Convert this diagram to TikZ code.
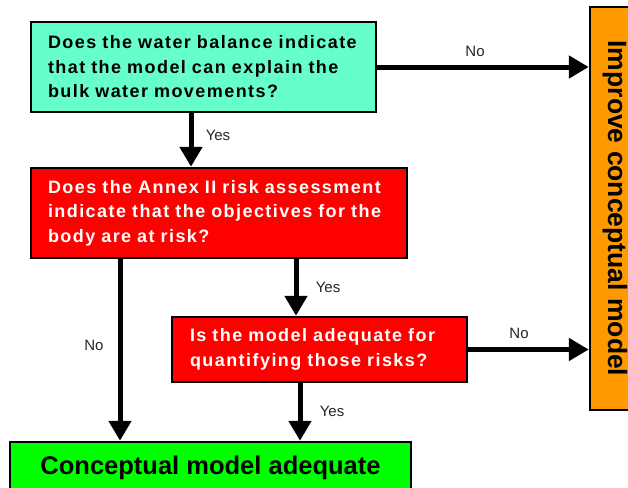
\documentclass[tikz,border=0pt]{standalone}
\usepackage{fontspec}
\setmainfont{Liberation Sans}
\usetikzlibrary{arrows.meta}
\definecolor{qteal}{HTML}{66FFCC}
\definecolor{qred}{HTML}{FF0000}
\definecolor{qgreen}{HTML}{00FF00}
\definecolor{qorange}{HTML}{FF9900}
\tikzset{
  box/.style={draw=black, line width=2.5pt, rectangle, inner sep=0pt, align=left},
  qtext/.style={font=\fontsize{18}{24.5}\selectfont\bfseries\addfontfeature{LetterSpace=8}},
  arr/.style={line width=5pt, -{Triangle[length=20pt,width=22pt]}},
  lbl/.style={font=\fontsize{15}{18}\selectfont, text=black!85, inner sep=0pt}
}
\begin{document}
\begin{tikzpicture}[x=1pt,y=-1pt]
\clip (0,0) rectangle (628,487);
\fill[white] (0,0) rectangle (628,487);
% boxes
\node[box, qtext, fill=qteal, minimum width=345, minimum height=90, text width=311] (q1) at (203.5,67)
  {Does the water balance indicate\\that the model can explain the\\bulk water movements?};
\node[box, qtext, fill=qred, text=white, minimum width=376, minimum height=90, text width=342] (q2) at (219,213)
  {Does the Annex II risk assessment\\indicate that the objectives for the\\body are at risk?};
\node[box, qtext, fill=qred, text=white, minimum width=295, minimum height=65, text width=259] (q3) at (319.5,349.5)
  {Is the model adequate for\\quantifying those risks?};
\node[box, fill=qgreen, minimum width=401, minimum height=52, align=center,
  font=\fontsize{25.5}{28}\selectfont\bfseries] (ok) at (210.5,468) {Conceptual model adequate};
\node[box, fill=qorange, minimum width=50, minimum height=403, align=center] (imp) at (615,208.5) {};
\node[rotate=-90, font=\fontsize{26.5}{30}\selectfont\bfseries, inner sep=0pt] (impt) at (imp.center) {Improve conceptual model};
% columns
\coordinate (c1) at (191,0);
\coordinate (c2) at (296,0);
\coordinate (c3) at (120,0);
\coordinate (c4) at (300,0);
% connectors
\draw[arr] (q1.east) -- (q1.east -| imp.west);
\draw[arr] (q1.south -| c1) -- (q2.north -| c1);
\draw[arr] (q2.south -| c2) -- (q3.north -| c2);
\draw[arr] (q2.south -| c3) -- (ok.north -| c3);
\draw[arr] (q3.east) -- (q3.east -| imp.west);
\draw[arr] (q3.south -| c4) -- (ok.north -| c4);
% labels
\node[lbl] (l1) at (475,51) {No};
\node[lbl] (l2) at (218,135) {Yes};
\node[lbl] (l3) at (328,287) {Yes};
\node[lbl] (l4) at (94,345) {No};
\node[lbl] (l5) at (519,333) {No};
\node[lbl] (l6) at (332,411) {Yes};
\end{tikzpicture}
\end{document}
